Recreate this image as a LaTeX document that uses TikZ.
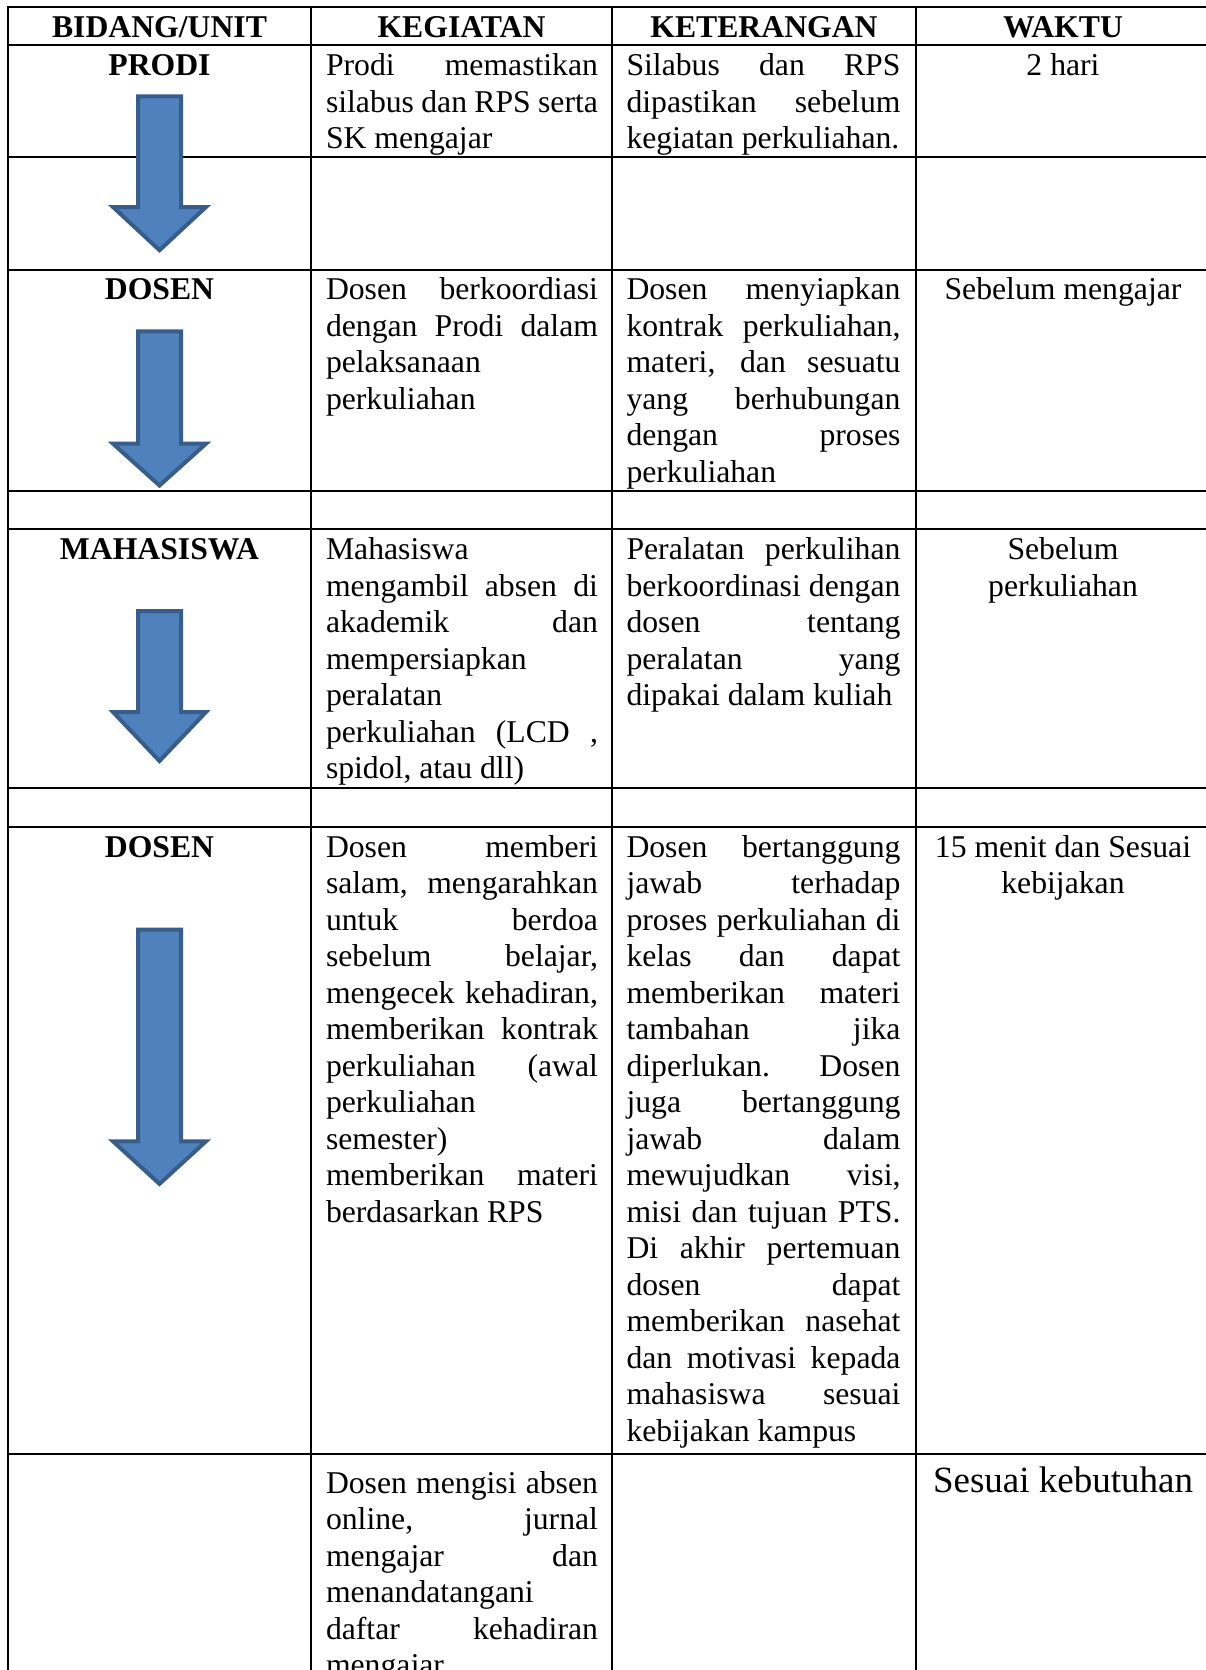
\documentclass[tikz,border=0pt]{standalone}
\usepackage{fontspec}
\setmainfont{Liberation Serif}

% one line of a cell: justified, flush left, or centred
\newdimen\linew
\newcommand\J[1]{\hbox to \linew{#1}}
\newcommand\Lf[1]{\hbox to \linew{#1\hfil}}
\newcommand\Cn[1]{\hbox to \linew{\hfil#1\hfil}}
\newcommand\cellpar[2]{\vtop{\linew=#1\relax#2}}
\newcommand\tabfont{\fontsize{31.7pt}{36.5pt}\selectfont}

\definecolor{arrowfill}{HTML}{4F81BD}
\definecolor{arrowline}{HTML}{385D8A}

% block arrow in the first column: shaft top, head base, tip
\newcommand\flowarrow[3]{%
  \draw[arrowbody] (138,#1) -- (181,#1) -- (181,#2) -- (206,#2)
    -- (159.5,#3) -- (113,#2) -- (138,#2) -- cycle;}

\begin{document}
\begin{tikzpicture}[x=1pt,y=-1pt,
  rule/.style={line width=2pt,black},
  arrowbody/.style={fill=arrowfill,draw=arrowline,line width=4pt},
  cell/.style={inner sep=0pt,outer sep=0pt,font=\tabfont,anchor=base west},
  ctr/.style={inner sep=0pt,outer sep=0pt,font=\tabfont,anchor=base},
  head/.style={ctr,font=\tabfont\bfseries}]
\useasboundingbox[fill=white] (0,0) rectangle (1206,1670);

% table rules
\foreach \y in {7.5,45.5,157,269.5,491,529,788,827,1454}
  \draw[rule] (7,\y) -- (1206,\y);
\foreach \x in {8,311,612,916}
  \draw[rule] (\x,6.5) -- (\x,1670);

% flow arrows
\flowarrow{96.3}{207}{250.2}
\flowarrow{331.3}{443.7}{485.5}
\flowarrow{611}{712}{761}
\flowarrow{929.7}{1141.3}{1183.9}

% header
\node[head] (h1) at (159.5,37.5) {BIDANG/UNIT};
\node[head] (h2) at (461.5,37.5) {KEGIATAN};
\node[head] (h3) at (764,37.5) {KETERANGAN};
\node[head] (h4) at (1063,37.5) {WAKTU};

% units
\node[head] (u1) at (159.5,76) {PRODI};
\node[head] (u2) at (159.5,299.5) {DOSEN};
\node[head] (u3) at (159.5,559.5) {MAHASISWA};
\node[head] (u4) at (159.5,857) {DOSEN};

% kegiatan
\node[cell] (k1) at (326,76) {\cellpar{272pt}{%
  \J{Prodi memastikan}
  \J{silabus dan RPS serta}
  \Lf{SK mengajar}}};
\node[cell] (k2) at (326,299.5) {\cellpar{272pt}{%
  \J{Dosen berkoordiasi}
  \J{dengan Prodi dalam}
  \Lf{pelaksanaan}
  \Lf{perkuliahan}}};
\node[cell] (k3) at (326,559.5) {\cellpar{272pt}{%
  \Lf{Mahasiswa}
  \J{mengambil absen di}
  \J{akademik dan}
  \Lf{mempersiapkan}
  \Lf{peralatan}
  \J{perkuliahan (LCD ,}
  \Lf{spidol, atau dll)}}};
\node[cell] (k4) at (326,857) {\cellpar{272pt}{%
  \J{Dosen memberi}
  \J{salam, mengarahkan}
  \J{untuk berdoa}
  \J{sebelum belajar,}
  \J{mengecek kehadiran,}
  \J{memberikan kontrak}
  \J{perkuliahan (awal}
  \Lf{perkuliahan}
  \Lf{semester)}
  \J{memberikan materi}
  \Lf{berdasarkan RPS}}};
\node[cell] (k5) at (326,1493) {\cellpar{272pt}{%
  \J{Dosen mengisi absen}
  \J{online, jurnal}
  \J{mengajar dan}
  \Lf{menandatangani}
  \J{daftar kehadiran}
  \Lf{mengajar}}};

% keterangan
\node[cell] (t1) at (626.5,76) {\cellpar{274pt}{%
  \J{Silabus dan RPS}
  \J{dipastikan sebelum}
  \Lf{kegiatan perkuliahan.}}};
\node[cell] (t2) at (626.5,299.5) {\cellpar{274pt}{%
  \J{Dosen menyiapkan}
  \J{kontrak perkuliahan,}
  \J{materi, dan sesuatu}
  \J{yang berhubungan}
  \J{dengan proses}
  \Lf{perkuliahan}}};
\node[cell] (t3) at (626.5,559.5) {\cellpar{274pt}{%
  \J{Peralatan perkulihan}
  \J{berkoordinasi dengan}
  \J{dosen tentang}
  \J{peralatan yang}
  \Lf{dipakai dalam kuliah}}};
\node[cell] (t4) at (626.5,857) {\cellpar{274pt}{%
  \J{Dosen bertanggung}
  \J{jawab terhadap}
  \J{proses perkuliahan di}
  \J{kelas dan dapat}
  \J{memberikan materi}
  \J{tambahan jika}
  \J{diperlukan. Dosen}
  \J{juga bertanggung}
  \J{jawab dalam}
  \J{mewujudkan visi,}
  \J{misi dan tujuan PTS.}
  \J{Di akhir pertemuan}
  \J{dosen dapat}
  \J{memberikan nasehat}
  \J{dan motivasi kepada}
  \J{mahasiswa sesuai}
  \Lf{kebijakan kampus}}};

% waktu
\node[ctr] (w1) at (1063,76) {2 hari};
\node[ctr] (w2) at (1063,299.5) {Sebelum mengajar};
\node[ctr] (w3) at (1063,559.5) {\cellpar{290pt}{%
  \Cn{Sebelum}
  \Cn{perkuliahan}}};
\node[ctr] (w4) at (1063,857) {\cellpar{290pt}{%
  \Cn{15 menit dan Sesuai}
  \Cn{kebijakan}}};
\node[ctr,font=\fontsize{37pt}{42pt}\selectfont] (w5) at (1063,1492) {Sesuai kebutuhan};
\end{tikzpicture}
\end{document}
